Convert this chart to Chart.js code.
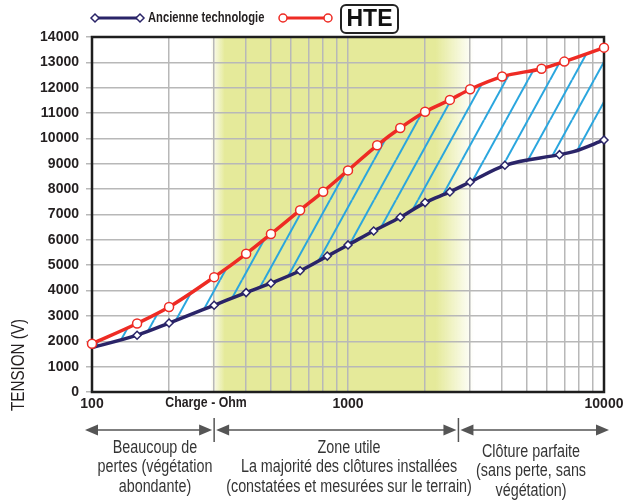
<!DOCTYPE html>
<html><head><meta charset="utf-8">
<script src="https://cdn.jsdelivr.net/npm/chart.js@4.4.1/dist/chart.umd.min.js"></script>
<style>html,body{margin:0;padding:0;background:#fff}</style>
</head><body>
<canvas id="c" width="632" height="500"></canvas>
<script>
// ---- data ----
const hteOhm  = [100, 150, 200, 300, 400, 500, 650, 800, 1000, 1300, 1600, 2000, 2500, 3000, 4000, 5700, 7000, 10000];
const hteVolt = [1900, 2700, 3350, 4530, 5450, 6230, 7170, 7900, 8740, 9730, 10410, 11050, 11520, 11940, 12440, 12750, 13030, 13580];
const oldOhm  = [100, 150, 200, 300, 400, 500, 650, 830, 1000, 1260, 1600, 2000, 2500, 3000, 4100, 6700, 7600, 10000];
const oldVolt = [1750, 2240, 2720, 3420, 3920, 4290, 4780, 5360, 5800, 6350, 6890, 7470, 7890, 8280, 8940, 9360, 9480, 9940];
const oldMarker = [0, 1, 1, 1, 1, 1, 1, 1, 1, 1, 1, 1, 1, 1, 1, 1, 0, 1];
const xGrid = [100,200,300,400,500,600,700,800,900,1000,2000,3000,4000,5000,6000,7000,8000,9000,10000];
const xLabels = [100, 1000, 10000];
const yMax = 14000, yStep = 1000;
const zoneBounds = [300, 2700];          // ohm limits of the three zones
const yellowBand = [290, 330, 2200, 3100]; // ohm: fade-in start, full, full end, fade-out end
const zoneText = [
  ["Beaucoup de", "pertes (végétation", "abondante)"],
  ["Zone utile", "La majorité des clôtures installées", "(constatées et mesurées sur le terrain)"],
  ["Clôture parfaite", "(sans perte, sans", "végétation)"]
];
const legendOld = "Ancienne technologie";
const legendNew = "HTE";
const xTitle = "Charge - Ohm";
const yTitle = "TENSION (V)";

const RED = '#ee2b24', NAVY = '#2a2468', CYAN = '#2aa6de', TXT = '#231f20';
const SANS = "'Liberation Sans',Arial,sans-serif";

function narrowText(ctx, text, x, y, font, sx, align){
  ctx.save();
  ctx.translate(x, y); ctx.scale(sx, 1);
  ctx.font = font; ctx.textAlign = align || 'center'; ctx.textBaseline = 'middle';
  ctx.fillText(text, 0, 0);
  ctx.restore();
}

function hatchPattern(ctx){
  const S = 22, H = 40;
  const c = document.createElement('canvas'); c.width = S; c.height = H;
  const g = c.getContext('2d');
  g.strokeStyle = CYAN; g.lineWidth = 2;
  for (const o of [-S, 0, S]) { g.beginPath(); g.moveTo(o, H); g.lineTo(o + S, 0); g.stroke(); }
  return ctx.createPattern(c, 'repeat');
}

const canvas = document.getElementById('c');
const ctx0 = canvas.getContext('2d');

const backPlugin = {
  id: 'back',
  beforeDraw(chart){
    const {ctx, chartArea: a, scales: {x}} = chart;
    const p = yellowBand.map(v => x.getPixelForValue(v));
    const g = ctx.createLinearGradient(p[0], 0, p[3], 0);
    const span = p[3] - p[0];
    const col = 'rgba(229,234,154,';
    g.addColorStop(0, col + '0)');
    g.addColorStop((p[1] - p[0]) / span, col + '1)');
    g.addColorStop((p[2] - p[0]) / span, col + '1)');
    g.addColorStop(1, col + '0)');
    ctx.save();
    ctx.fillStyle = g;
    ctx.fillRect(p[0], a.top, p[3] - p[0], a.bottom - a.top);
    ctx.restore();
  },
  beforeDatasetsDraw(chart){
    const {ctx, chartArea: a} = chart;
    ctx.save();
    ctx.strokeStyle = '#1e1e1e'; ctx.lineWidth = 2.5;
    ctx.strokeRect(a.left, a.top, a.right - a.left, a.bottom - a.top);
    ctx.restore();
  },
  afterDraw(chart){
    const {ctx, scales: {x}} = chart;
    ctx.save();
    // legend
    const ly = 18;
    ctx.lineWidth = 3; ctx.strokeStyle = NAVY;
    ctx.beginPath(); ctx.moveTo(95, ly); ctx.lineTo(140, ly); ctx.stroke();
    for (const px of [95, 140]) {
      ctx.beginPath(); ctx.moveTo(px - 4, ly); ctx.lineTo(px, ly - 4); ctx.lineTo(px + 4, ly); ctx.lineTo(px, ly + 4); ctx.closePath();
      ctx.fillStyle = '#fff'; ctx.fill(); ctx.lineWidth = 1.5; ctx.stroke();
    }
    ctx.fillStyle = TXT;
    narrowText(ctx, legendOld, 148, ly, "bold 14px " + SANS, 0.8, 'left');
    ctx.lineWidth = 3; ctx.strokeStyle = RED;
    ctx.beginPath(); ctx.moveTo(283, ly); ctx.lineTo(328, ly); ctx.stroke();
    for (const px of [283, 328]) {
      ctx.beginPath(); ctx.arc(px, ly, 4, 0, Math.PI * 2);
      ctx.fillStyle = '#fff'; ctx.fill(); ctx.lineWidth = 1.5; ctx.stroke();
    }
    ctx.strokeStyle = '#222'; ctx.lineWidth = 2;
    ctx.beginPath(); ctx.roundRect(341, 5, 57, 28, 5); ctx.stroke();
    ctx.fillStyle = '#111';
    narrowText(ctx, legendNew, 369.5, 20, "bold 23px " + SANS, 1, 'center');

    // axis titles
    ctx.fillStyle = TXT;
    narrowText(ctx, xTitle, 206, 403, "bold 15px " + SANS, 0.82, 'center');
    ctx.save();
    ctx.translate(19, 365); ctx.rotate(-Math.PI / 2);
    narrowText(ctx, yTitle, 0, 0, "18.5px " + SANS, 0.82, 'center');
    ctx.restore();

    // zone arrows
    const ay = 430;
    const b = zoneBounds.map(v => x.getPixelForValue(v));
    const segs = [[85, b[0] - 2], [b[0] + 2, b[1] - 2], [b[1] + 2, 609]];
    ctx.strokeStyle = '#555'; ctx.fillStyle = '#555'; ctx.lineWidth = 1.5;
    for (const bx of b) { ctx.beginPath(); ctx.moveTo(bx, 418); ctx.lineTo(bx, 442); ctx.stroke(); }
    for (const [l, r] of segs) {
      ctx.beginPath(); ctx.moveTo(l + 8, ay); ctx.lineTo(r - 8, ay); ctx.stroke();
      ctx.beginPath(); ctx.moveTo(l, ay); ctx.lineTo(l + 13, ay - 5.5); ctx.lineTo(l + 13, ay + 5.5); ctx.closePath(); ctx.fill();
      ctx.beginPath(); ctx.moveTo(r, ay); ctx.lineTo(r - 13, ay - 5.5); ctx.lineTo(r - 13, ay + 5.5); ctx.closePath(); ctx.fill();
    }
    // zone texts
    const centers = [155, 349, 531];
    const tops = [448, 448, 452];
    ctx.fillStyle = '#353535';
    zoneText.forEach((lines, i) => lines.forEach((t, j) =>
      narrowText(ctx, t, centers[i], tops[i] + j * 19.5, "17.5px " + SANS, 0.82, 'center')));
    ctx.restore();
  }
};

new Chart(canvas, {
  type: 'line',
  data: {
    datasets: [
      {
        label: legendOld,
        data: oldOhm.map((v, i) => ({x: v, y: oldVolt[i]})),
        borderColor: NAVY, borderWidth: 3.5,
        pointStyle: 'rectRot',
        pointRadius: oldMarker.map(m => m ? 4 : 0),
        pointBackgroundColor: '#fff', pointBorderColor: NAVY, pointBorderWidth: 1.5,
        cubicInterpolationMode: 'monotone',
        fill: false, clip: false, order: 1
      },
      {
        label: legendNew,
        data: hteOhm.map((v, i) => ({x: v, y: hteVolt[i]})),
        borderColor: RED, borderWidth: 3.5,
        pointStyle: 'circle', pointRadius: 4.5,
        pointBackgroundColor: '#fff', pointBorderColor: RED, pointBorderWidth: 1.5,
        cubicInterpolationMode: 'monotone',
        fill: 0, backgroundColor: hatchPattern(ctx0),
        clip: false, order: 0
      }
    ]
  },
  options: {
    responsive: false, animation: false,
    layout: {padding: {top: 37, right: 28, left: 0, bottom: 0}},
    plugins: {legend: {display: false}, tooltip: {enabled: false}, filler: {drawTime: 'beforeDatasetsDraw'}},
    scales: {
      x: {
        type: 'logarithmic', min: 100, max: 10000,
        afterBuildTicks(s){ s.ticks = xGrid.map(v => ({value: v})); },
        afterFit(s){ s.height = 108; },
        grid: {color: '#b8b8b8', lineWidth: 1.5, drawTicks: false},
        border: {display: false},
        ticks: {
          autoSkip: false, maxRotation: 0, padding: 4, color: TXT,
          font: {family: SANS, size: 14, weight: 'bold'},
          callback: v => xLabels.includes(v) ? String(v) : ''
        }
      },
      y: {
        min: 0, max: yMax,
        afterFit(s){ s.width = 92; },
        grid: {color: '#b8b8b8', lineWidth: 1.5, tickLength: 6},
        border: {display: false},
        ticks: {stepSize: yStep, padding: 7, color: TXT, font: {family: SANS, size: 14, weight: 'bold'},
          callback: v => String(v)}
      }
    }
  },
  plugins: [backPlugin]
});
</script>
</body></html>
